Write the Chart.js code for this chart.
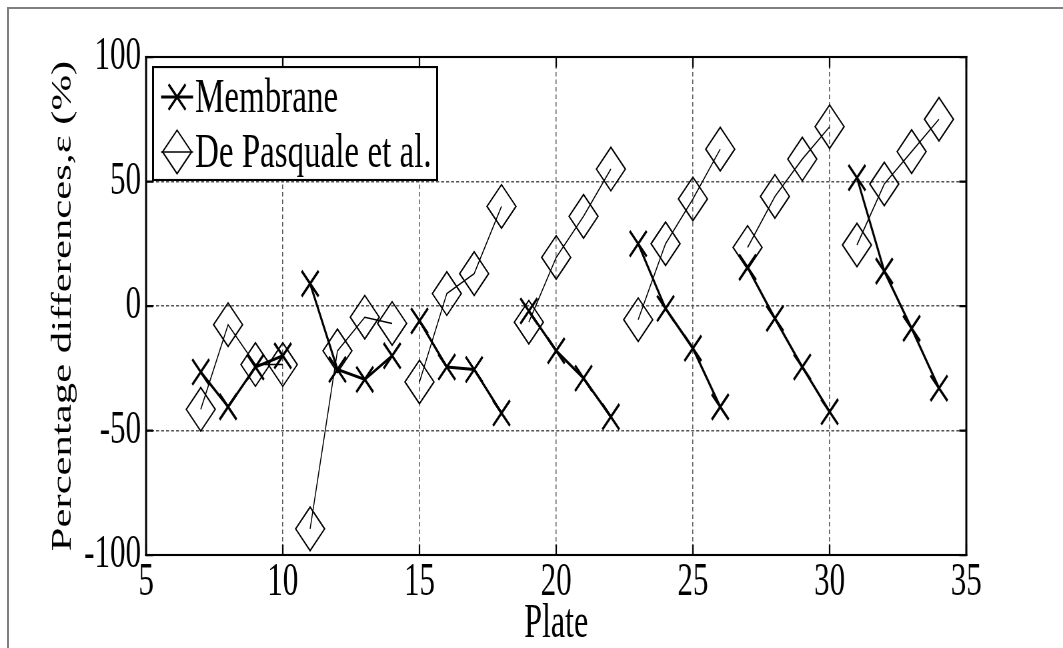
<!DOCTYPE html>
<html>
<head>
<meta charset="utf-8">
<title>Percentage differences per plate</title>
<script src="https://cdn.jsdelivr.net/npm/chart.js@4/dist/chart.umd.min.js"></script>
<style>
  html, body { margin: 0; padding: 0; background: #fff; }
  body { width: 1063px; height: 648px; overflow: hidden; position: relative; }
  #frame {
    position: absolute; left: 7px; top: 7px; right: 0; bottom: 0;
    border-left: 2px solid #7f7f7f; border-top: 2px solid #7f7f7f;
  }
  /* the figure is drawn at 2/3 height and stretched back up, like the exported plot */
  #wrap {
    position: absolute; left: 0; top: 0; width: 1063px; height: 432px;
    transform: scaleY(1.5); transform-origin: 0 0;
  }
</style>
</head>
<body>
<div id="frame"></div>
<div id="wrap"><canvas id="diff-chart" width="1063" height="432" style="width:1063px;height:432px"></canvas></div>
<script>
const plates = [7, 8, 9, 10, 11, 12, 13, 14, 15, 16, 17, 18, 19, 20,
                21, 22, 23, 24, 25, 26, 27, 28, 29, 30, 31, 32, 33, 34];
const membrane = [-26.5, -40.5, -24.5, -20, 9, -25.5, -29.5, -20,
                  -6, -24.5, -25.5, -43, -2, -18, -29, -44.5,
                  25, -1, -17, -40.5, 15.5, -5, -24.5, -42.5,
                  51.5, 14, -9, -33];
const dePasquale = [-41.5, -7.5, -23.5, -23.5, -89.5, -18, -4.5, -7,
                    -30.5, 5, 13, 40, -6.5, 19.5, 36, 55,
                    -5.5, 25, 43, 63, 23.5, 44, 59, 72,
                    24.5, 49, 62, 75];
const plateGroup = 4; // consecutive plates joined by a line
const xTickValues = [5, 10, 15, 20, 25, 30, 35];
const yTickValues = [-100, -50, 0, 50, 100];

const FONT = '"Liberation Serif", "Times New Roman", serif';
Chart.defaults.font.family = FONT;
Chart.defaults.color = '#000';

// break the line between groups of plates
function toPoints(values) {
  const pts = [];
  plates.forEach((p, i) => {
    if (i > 0 && i % plateGroup === 0) pts.push({ x: p - 0.5, y: null });
    pts.push({ x: p, y: values[i] });
  });
  return pts;
}

const axesBox = {
  id: 'axesBox',
  afterDatasetsDraw(chart) {
    const { ctx, chartArea: a, scales: { x, y } } = chart;
    ctx.save();
    ctx.strokeStyle = '#000';
    ctx.lineWidth = 1.5;
    ctx.beginPath();
    xTickValues.forEach((v) => {
      const px = x.getPixelForValue(v);
      ctx.moveTo(px, a.bottom); ctx.lineTo(px, a.bottom - 7);
      ctx.moveTo(px, a.top); ctx.lineTo(px, a.top + 7);
    });
    yTickValues.forEach((v) => {
      const py = y.getPixelForValue(v);
      ctx.moveTo(a.left, py); ctx.lineTo(a.left + 7, py);
      ctx.moveTo(a.right, py); ctx.lineTo(a.right - 7, py);
    });
    ctx.stroke();
    // box: horizontal edges thinner because of the vertical stretch
    ctx.fillStyle = '#000';
    ctx.fillRect(a.left - 1, a.top - 0.7, 2, a.height + 1.4);
    ctx.fillRect(a.right - 1, a.top - 0.7, 2, a.height + 1.4);
    ctx.fillRect(a.left - 1, a.top - 0.7, a.width + 2, 1.4);
    ctx.fillRect(a.left - 1, a.bottom - 0.7, a.width + 2, 1.4);
    ctx.restore();
  },
  afterDraw(chart) {
    const { ctx } = chart;
    const box = { left: 153, top: 44.7, right: 437, bottom: 120 };
    ctx.save();
    ctx.fillStyle = '#fff';
    ctx.fillRect(box.left, box.top, box.right - box.left, box.bottom - box.top);
    ctx.fillStyle = '#000';
    ctx.fillRect(box.left - 1, box.top - 0.7, 2, box.bottom - box.top + 1.4);
    ctx.fillRect(box.right - 1, box.top - 0.7, 2, box.bottom - box.top + 1.4);
    ctx.fillRect(box.left - 1, box.top - 0.7, box.right - box.left + 2, 1.4);
    ctx.fillRect(box.left - 1, box.bottom - 0.7, box.right - box.left + 2, 1.4);

    chart.data.datasets.forEach((ds, i) => {
      const cy = box.top + 20 + i * 36.6;
      ctx.strokeStyle = '#000';
      ctx.lineWidth = ds.borderWidth;
      ctx.beginPath();
      ctx.moveTo(161, cy);
      ctx.lineTo(193, cy);
      ctx.stroke();
      ctx.fillStyle = 'rgba(0,0,0,0)';
      ctx.lineWidth = ds.pointBorderWidth;
      Chart.helpers.drawPoint(ctx, {
        pointStyle: ds.pointStyle,
        radius: ds.pointRadius,
        borderWidth: ds.pointBorderWidth,
        rotation: 0
      }, 177, cy);
      ctx.fillStyle = '#000';
      ctx.font = '33px ' + FONT;
      ctx.textAlign = 'left';
      ctx.textBaseline = 'alphabetic';
      ctx.fillText(ds.label, 195, cy + 9.8);
    });
    ctx.restore();
  }
};

new Chart(document.getElementById('diff-chart'), {
  type: 'line',
  data: {
    datasets: [
      {
        label: 'Membrane',
        data: toPoints(membrane),
        borderColor: '#000',
        borderWidth: 2,
        pointStyle: 'crossRot',
        pointRadius: 12,
        pointBorderWidth: 2,
        pointBorderColor: '#000',
        pointBackgroundColor: 'rgba(0,0,0,0)',
        tension: 0,
        spanGaps: false
      },
      {
        label: 'De Pasquale et al.',
        data: toPoints(dePasquale),
        borderColor: '#000',
        borderWidth: 1,
        pointStyle: 'rectRot',
        pointRadius: 14.5,
        pointBorderWidth: 1.2,
        pointBorderColor: '#000',
        pointBackgroundColor: 'rgba(0,0,0,0)',
        tension: 0,
        spanGaps: false
      }
    ]
  },
  options: {
    responsive: false,
    animation: false,
    devicePixelRatio: 1.5,
    events: [],
    layout: { padding: { top: 38, right: 97, left: 0, bottom: 0 } },
    plugins: { legend: { display: false }, tooltip: { enabled: false } },
    scales: {
      x: {
        type: 'linear',
        min: 5,
        max: 35,
        afterBuildTicks: (s) => { s.ticks = xTickValues.map((v) => ({ value: v })); },
        afterFit: (s) => { s.height = 62; },
        grid: { color: '#555', lineWidth: 1, drawTicks: false },
        border: { display: false, dash: [3, 2] },
        ticks: { font: { size: 31, lineHeight: 1 }, padding: 3, color: '#000' },
        title: {
          display: true,
          text: 'Plate',
          font: { size: 32, lineHeight: 1 },
          padding: { top: 0, bottom: 0 },
          color: '#000'
        }
      },
      y: {
        min: -100,
        max: 100,
        afterBuildTicks: (s) => { s.ticks = yTickValues.map((v) => ({ value: v })); },
        afterFit: (s) => { s.width = 146; },
        grid: { color: '#555', lineWidth: 1, drawTicks: false },
        border: { display: false, dash: [3, 2] },
        ticks: { font: { size: 31, lineHeight: 1 }, padding: 5, color: '#000' },
        title: {
          display: true,
          text: 'Percentage differences,\u03b5 (%)',
          font: { size: 28.5, lineHeight: 1 },
          padding: { top: 49, bottom: 0 },
          color: '#000'
        }
      }
    }
  },
  plugins: [axesBox]
});
</script>
</body>
</html>
